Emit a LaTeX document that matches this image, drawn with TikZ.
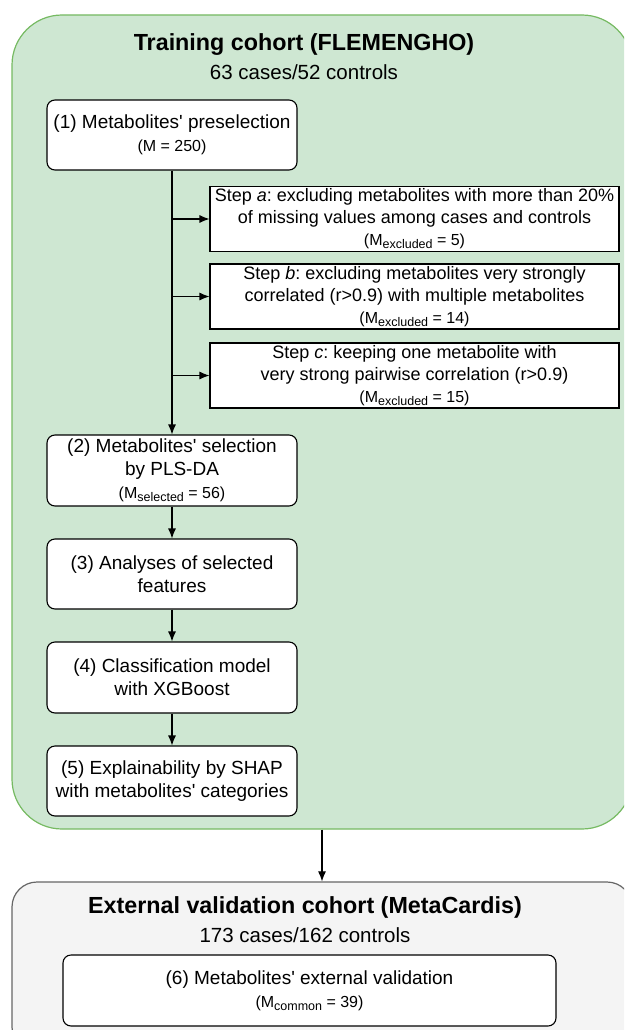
\documentclass[tikz,border=0pt]{standalone}
\usepackage{fontspec}
\usetikzlibrary{arrows.meta}
\setmainfont{Liberation Sans}
\frenchspacing
\definecolor{nenxanh}{RGB}{206,231,210}
\definecolor{vienxanh}{RGB}{118,186,98}
\definecolor{nenxam}{RGB}{244,244,244}
\definecolor{vienxam}{RGB}{102,102,102}
\newcommand{\nho}{\fontsize{16}{19}\selectfont}
\newcommand{\Mchiso}[1]{M\raisebox{-0.35ex}{\fontsize{12.5}{13}\selectfont #1}}
\newcommand{\phay}{\textquotesingle}
\begin{document}
\begin{tikzpicture}[>={Latex[length=10pt, width=8pt]}, x=1pt, y=-1pt,
    hop/.style={draw, line width=1.1pt, rounded corners=8pt, fill=white, align=center,
        minimum width=250pt, minimum height=70pt, inner sep=0pt, font=\fontsize{19}{23}\selectfont},
    buoc/.style={draw, line width=1.1pt, fill=white, align=center,
        minimum width=409pt, minimum height=65pt, inner sep=0pt, font=\fontsize{18}{22}\selectfont},
    tieude/.style={inner sep=0pt, font=\fontsize{23.3}{27}\selectfont\bfseries},
    phude/.style={inner sep=0pt, font=\fontsize{20.5}{24}\selectfont}]
    \useasboundingbox (0,0) rectangle (624,1030);
    \clip (0,0) rectangle (624,1030);

    % Khung huấn luyện và khung kiểm định
    \node[draw=vienxanh, fill=nenxanh, line width=1.2pt, rounded corners=50pt,
        minimum width=620pt, minimum height=814pt] (huanluyen) at (322,422) {};
    \node[draw=vienxam, fill=nenxam, line width=1.2pt, rounded corners=25pt,
        minimum width=620pt, minimum height=170pt] (kiemdinh) at (322,967) {};

    % Tiêu đề
    \node[tieude] (tieude1) at (304,45) {Training cohort (FLEMENGHO)};
    \node[phude] (phude1) at (304,72) {63 cases/52 controls};
    \node[tieude] (tieude2) at (305,907) {External validation cohort (MetaCardis)};
    \node[phude] (phude2) at (305,935) {173 cases/162 controls};

    % Các bước chính
    \node[hop] (b1) at (172,135) {(1) Metabolites\phay{} preselection\\{\nho (M = 250)}};
    \node[hop, minimum height=71pt] (b2) at (172,470.5) {(2) Metabolites\phay{} selection\\by PLS-DA\\{\nho (\Mchiso{selected} = 56)}};
    \node[hop] (b3) at (172,574) {(3) Analyses of selected\\features};
    \node[hop, minimum height=71pt] (b4) at (172,677.5) {(4) Classification model\\with XGBoost};
    \node[hop] (b5) at (172,781) {(5) Explainability by SHAP\\with metabolites\phay{} categories};
    \node[hop, minimum width=493pt, minimum height=71pt] (b6) at (309.5,990.5) {(6) Metabolites\phay{} external validation\\{\nho (\Mchiso{common} = 39)}};

    % Các bước loại trừ
    \node[buoc] (ba) at (414.5,219) {Step {\itshape a}: excluding metabolites with more than 20\%\\of missing values among cases and controls\\{\nho (\Mchiso{excluded} = 5)}};
    \node[buoc] (bb) at (414.5,296.5) {Step {\itshape b}: excluding metabolites very strongly\\correlated (r>0.9) with multiple metabolites\\{\nho (\Mchiso{excluded} = 14)}};
    \node[buoc] (bc) at (414.5,375.5) {Step {\itshape c}: keeping one metabolite with\\very strong pairwise correlation (r>0.9)\\{\nho (\Mchiso{excluded} = 15)}};

    % Mũi tên
    \draw[->, line width=1.1pt] (b1) -- (b2);
    \foreach \s in {ba,bb,bc}
        \draw[->, line width=1.1pt] (b1 |- \s.west) -- (\s.west);
    \draw[->, line width=1.1pt] (b2) -- (b3);
    \draw[->, line width=1.1pt] (b3) -- (b4);
    \draw[->, line width=1.1pt] (b4) -- (b5);
    \draw[->, line width=1.1pt] (huanluyen) -- (kiemdinh);
\end{tikzpicture}
\end{document}
